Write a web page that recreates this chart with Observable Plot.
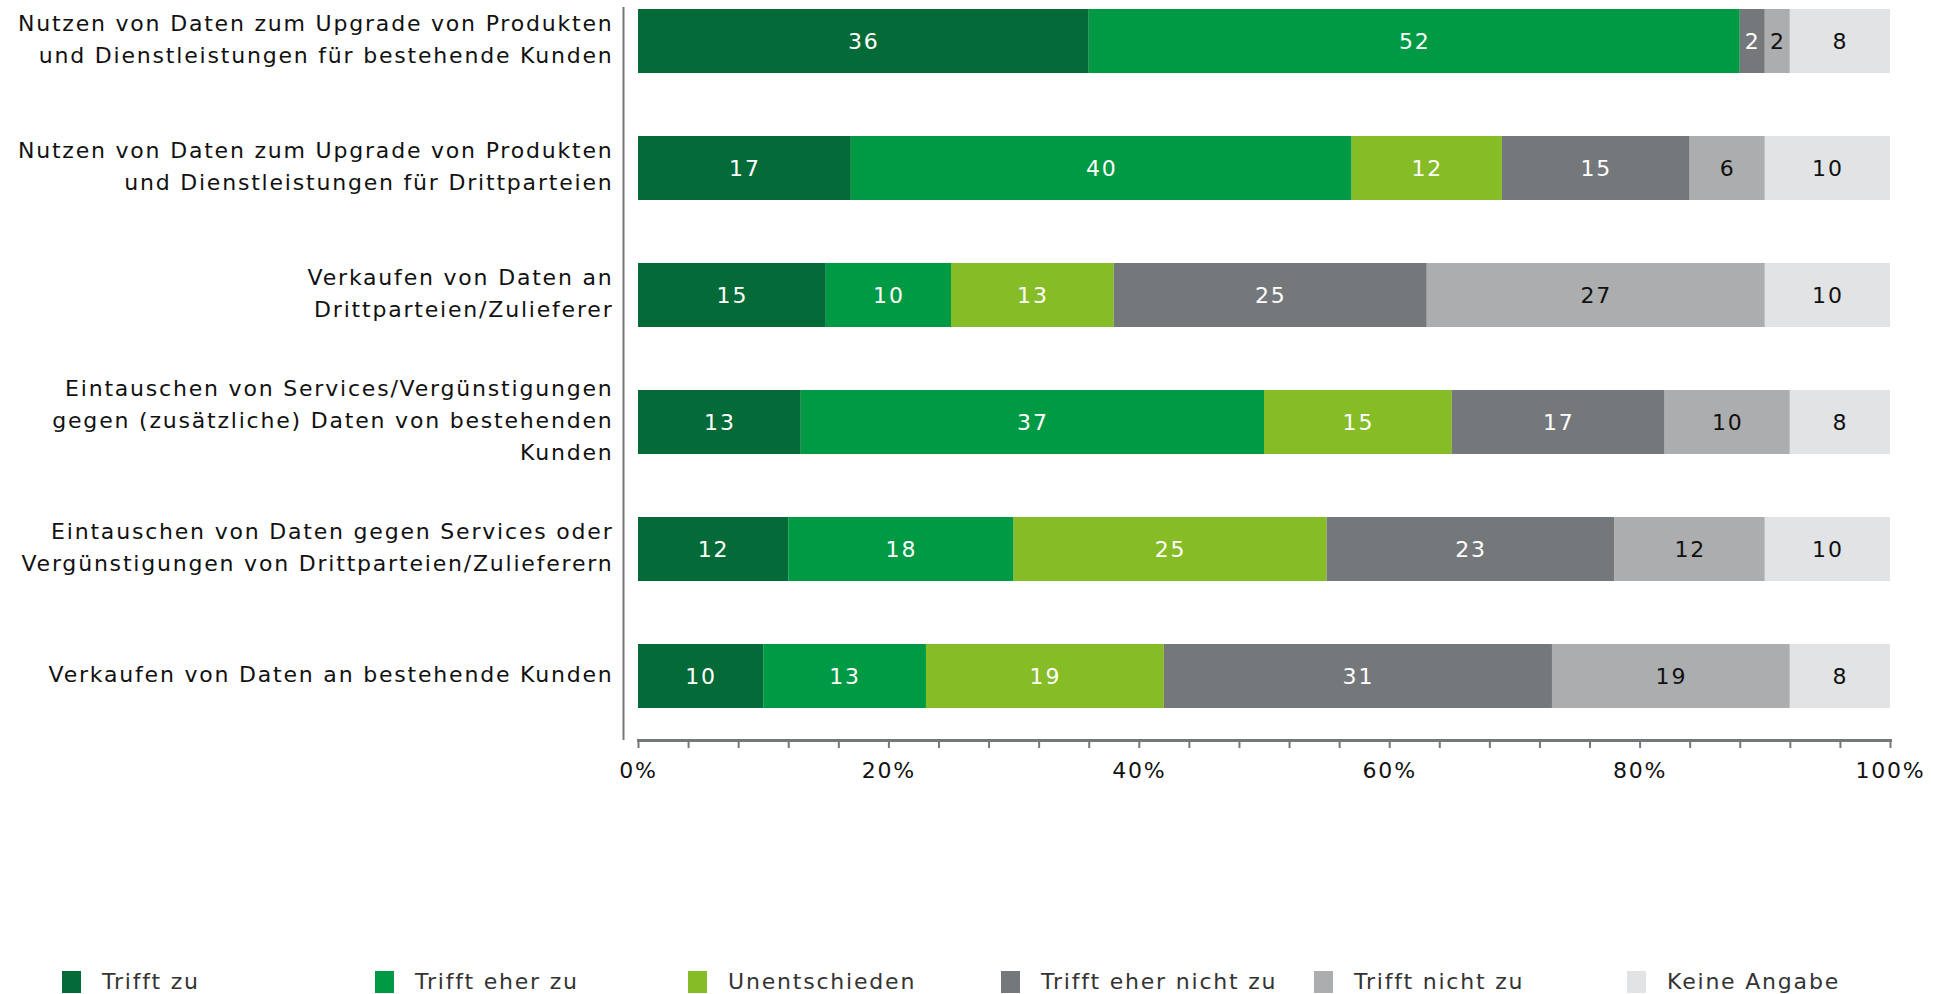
<!DOCTYPE html>
<html>
<head>
<meta charset="utf-8">
<script src="https://cdn.jsdelivr.net/npm/d3@7"></script>
<script src="https://cdn.jsdelivr.net/npm/@observablehq/plot@0.6"></script>
<style>
  html, body { margin: 0; padding: 0; background: #fff; }
  #wrap { position: relative; width: 1946px; height: 994px; font-family: "DejaVu Sans", Verdana, sans-serif; }
  #chart svg text { letter-spacing: 1.8px; }
  #legend { position: absolute; left: 62px; top: 969px; display: flex; }
  .item { width: 313px; display: flex; align-items: center; font-size: 22px; color: #333; letter-spacing: 1.8px; }
  .sw { width: 19px; height: 22px; margin-right: 21px; flex: none; }
</style>
</head>
<body>
<div id="wrap"><div id="chart"></div><div id="legend"></div></div>
<script>
const categories = [
  "Nutzen von Daten zum Upgrade von Produkten\nund Dienstleistungen für bestehende Kunden",
  "Nutzen von Daten zum Upgrade von Produkten\nund Dienstleistungen für Drittparteien",
  "Verkaufen von Daten an\nDrittparteien/Zulieferer",
  "Eintauschen von Services/Vergünstigungen\ngegen (zusätzliche) Daten von bestehenden\nKunden",
  "Eintauschen von Daten gegen Services oder\nVergünstigungen von Drittparteien/Zulieferern",
  "Verkaufen von Daten an bestehende Kunden"
];
const series = ["Trifft zu", "Trifft eher zu", "Unentschieden", "Trifft eher nicht zu", "Trifft nicht zu", "Keine Angabe"];
const colors = ["#046A38", "#009A44", "#86BC25", "#75787B", "#ACADAF", "#E2E3E5"];
const trifftZu        = [36, 17, 15, 13, 12, 10];
const trifftEherZu    = [52, 40, 10, 37, 18, 13];
const unentschieden   = [0, 12, 13, 15, 25, 19];
const trifftEherNicht = [2, 15, 25, 17, 23, 31];
const trifftNicht     = [2, 6, 27, 10, 12, 19];
const keineAngabe     = [8, 10, 10, 8, 10, 8];
const xTicks = [0, 4, 8, 12, 16, 20, 24, 28, 32, 36, 40, 44, 48, 52, 56, 60, 64, 68, 72, 76, 80, 84, 88, 92, 96, 100];

const valueSets = [trifftZu, trifftEherZu, unentschieden, trifftEherNicht, trifftNicht, keineAngabe];
const darkText = new Set(["Trifft nicht zu", "Keine Angabe"]);
const data = [];
series.forEach((s, si) => {
  categories.forEach((c, ci) => {
    data.push({series: s, category: c, value: valueSets[si][ci]});
  });
});

const lightLabel = d => (d.value > 0 && !darkText.has(d.series)) ? String(d.value) : "";
const darkLabel = d => (d.value > 0 && darkText.has(d.series)) ? String(d.value) : "";

const chart = Plot.plot({
  width: 1946,
  height: 800,
  marginLeft: 638,
  marginRight: 56,
  marginTop: 7,
  marginBottom: 60,
  style: {fontFamily: "DejaVu Sans, Verdana, sans-serif", fontSize: "22px", background: "#fff", color: "#111"},
  x: {domain: [0, 100], axis: null},
  y: {domain: categories, axis: null, paddingInner: 0.5, paddingOuter: 0, insetBottom: 30},
  color: {domain: series, range: colors},
  marks: [
    Plot.barX(data, {x: "value", y: "category", fill: "series"}),
    Plot.text(data, Plot.stackX({x: "value", y: "category", z: "series", text: lightLabel, fill: "white", fontSize: 22})),
    Plot.text(data, Plot.stackX({x: "value", y: "category", z: "series", text: darkLabel, fill: "#111", fontSize: 22})),
    Plot.axisY({label: null, tickSize: 0, tickPadding: 25, fontSize: 22, lineHeight: 1.45, dy: -5, fill: "#111"}),
    Plot.ruleX([0], {dx: -15, stroke: "#75787B", strokeWidth: 2}),
    Plot.frame({anchor: "bottom", stroke: "#75787B", strokeWidth: 3}),
    Plot.axisX({label: null, ticks: xTicks, tickFormat: d => d % 20 === 0 ? d + "%" : "", tickSize: 8, tickPadding: 14,
      stroke: "#75787B", strokeWidth: 2, fontSize: 22, fill: "#111"})
  ]
});
document.getElementById("chart").appendChild(chart);

const legend = document.getElementById("legend");
series.forEach((s, i) => {
  const it = document.createElement("div");
  it.className = "item";
  it.innerHTML = `<span class="sw" style="background:${colors[i]}"></span><span>${s}</span>`;
  legend.appendChild(it);
});
</script>
</body>
</html>
